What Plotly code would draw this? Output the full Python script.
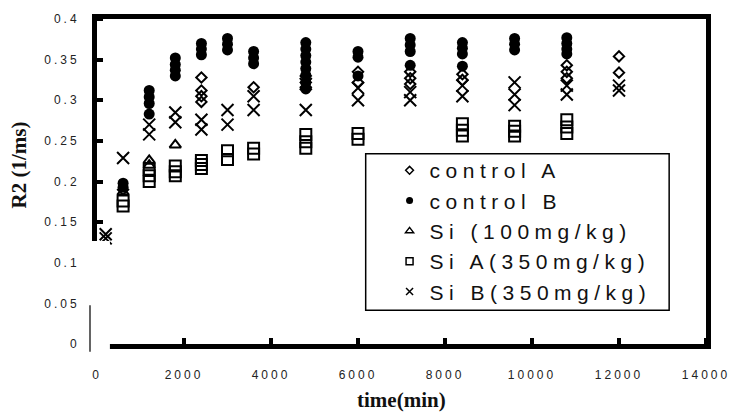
import plotly.graph_objects as go

# ---------------- data ----------------
control_a_t = [600, 2400, 2400, 2400, 2400, 3600, 4800, 4800, 4800, 6000, 6000,
               7200, 7200, 7200, 8400, 8400, 10800, 10800, 10800, 12000, 12000]
control_a_r2 = [0.19, 0.328, 0.312, 0.305, 0.298, 0.316, 0.33, 0.322, 0.316, 0.335, 0.322,
                0.335, 0.327, 0.32, 0.332, 0.325, 0.343, 0.335, 0.327, 0.354, 0.334]

control_b_t = [600, 600, 1200, 1200, 1200, 1200, 1800, 1800, 1800, 1800,
               2400, 2400, 2400, 3000, 3000, 3000, 3600, 3600, 3600,
               4800, 4800, 4800, 4800, 4800, 4800, 4800, 4800,
               6000, 6000, 6000, 7200, 7200, 7200, 7200, 8400, 8400, 8400, 8400,
               9600, 9600, 9600, 10800, 10800, 10800, 10800]
control_b_r2 = [0.198, 0.193, 0.312, 0.304, 0.296, 0.283, 0.352, 0.344, 0.337, 0.33,
                0.370, 0.363, 0.356, 0.376, 0.369, 0.362, 0.36, 0.352, 0.345,
                0.371, 0.363, 0.355, 0.347, 0.339, 0.331, 0.322, 0.314,
                0.36, 0.353, 0.33, 0.376, 0.368, 0.36, 0.343, 0.371, 0.364, 0.357, 0.342,
                0.376, 0.369, 0.362, 0.377, 0.37, 0.363, 0.357]

si100_t = [600, 1200, 1200, 1800]
si100_r2 = [0.187, 0.226, 0.22, 0.245]

si_a_t = [600, 600, 1200, 1200, 1200, 1800, 1800, 1800, 2400, 2400, 2400,
          3000, 3000, 3600, 3600, 4800, 4800, 4800, 6000, 6000,
          8400, 8400, 8400, 9600, 9600, 9600, 10800, 10800, 10800]
si_a_r2 = [0.176, 0.17, 0.215, 0.207, 0.2, 0.219, 0.212, 0.207, 0.226, 0.221, 0.216,
           0.238, 0.227, 0.241, 0.234, 0.258, 0.249, 0.241, 0.259, 0.252,
           0.271, 0.263, 0.256, 0.268, 0.262, 0.256, 0.276, 0.267, 0.259]

si_b_t = [200, 200, 600, 1200, 1200, 1800, 1800, 2400, 2400, 3000, 3000, 3600, 3600,
          4800, 4800, 6000, 6000, 7200, 7200, 8400, 8400, 9600, 9600, 9600,
          10800, 10800, 12000, 12000]
si_b_r2 = [0.135, 0.13, 0.229, 0.27, 0.258, 0.285, 0.273, 0.276, 0.264, 0.288, 0.27, 0.305, 0.288,
           0.32, 0.288, 0.315, 0.3, 0.31, 0.3, 0.318, 0.305, 0.322, 0.307, 0.294,
           0.318, 0.307, 0.318, 0.312]

series_names = ["control A", "control B", "Si (100mg/kg)", "Si A(350mg/kg)", "Si B(350mg/kg)"]
x_ticks = [0, 2000, 4000, 6000, 8000, 10000, 12000, 14000]
x_tick_text = ["0", "2000", "4000", "6000", "8000", "10000", "12000", "14000"]
y_ticks = [0, 0.05, 0.1, 0.15, 0.2, 0.25, 0.3, 0.35, 0.4]
y_tick_text = ["0", "0.05", "0.1", "0.15", "0.2", "0.25", "0.3", "0.35", "0.4"]

# ---------------- styles ----------------
styles = [
    dict(symbol="diamond-open", size=8, lsize=6, lw=2),
    dict(symbol="circle", size=11, lsize=7, lw=0),
    dict(symbol="triangle-up-open", size=10, lsize=7, lw=2),
    dict(symbol="square-open", size=11, lsize=7, lw=2),
    dict(symbol="x-thin-open", size=12, lsize=7, lw=2),
]
data = [(control_a_t, control_a_r2), (control_b_t, control_b_r2), (si100_t, si100_r2),
        (si_a_t, si_a_r2), (si_b_t, si_b_r2)]

fig = go.Figure()
for name, (tx, ry), st in zip(series_names, data, styles):
    fig.add_trace(go.Scatter(
        x=tx, y=ry, mode="markers", name=name, showlegend=False,
        marker=dict(symbol=st["symbol"], size=st["size"], color="black",
                    line=dict(color="black", width=st["lw"]))))
for name, st in zip(series_names, styles):
    fig.add_trace(go.Scatter(
        x=[None], y=[None], mode="markers", name=name, showlegend=True,
        marker=dict(symbol=st["symbol"], size=st["lsize"], color="black",
                    line=dict(color="black", width=1.5 if st["lw"] else 0))))

tick_font = dict(family="Liberation Sans, Arial, sans-serif", size=12, color="#222")
axis_common = dict(showgrid=False, zeroline=False, showline=True, linewidth=5,
                   linecolor="black", mirror=True, ticks="outside",
                   tickcolor="rgba(0,0,0,0)", tickwidth=1, tickfont=tick_font)
fig.update_xaxes(range=[0, 14000], tickvals=x_ticks, ticktext=x_tick_text, ticklen=16,
                 minor=dict(tickvals=x_ticks, ticks="inside", ticklen=6, tickwidth=4,
                            tickcolor="black", showgrid=False),
                 **axis_common)
fig.update_yaxes(range=[0, 0.4], tickvals=y_ticks, ticktext=y_tick_text, ticklen=10,
                 minor=dict(tickvals=y_ticks, ticks="inside", ticklen=6, tickwidth=4,
                            tickcolor="black", showgrid=False),
                 **axis_common)

shapes = [
    # break in the frame at the lower-left corner (as in the reference)
    dict(type="rect", xref="paper", yref="paper", x0=-0.0131, x1=0.0212, y0=-0.03, y1=0.317,
         line=dict(width=0), fillcolor="white", layer="above"),
    # thin stray line near the origin
    dict(type="rect", xref="paper", yref="paper", x0=-0.0125, x1=-0.0105, y0=-0.024, y1=0.119,
         line=dict(width=0), fillcolor="black", layer="above"),
    # legend box
    dict(type="rect", xref="paper", yref="paper", x0=0.4412, x1=0.9395, y0=0.1037, y1=0.5854,
         line=dict(color="black", width=1.5), fillcolor="rgba(0,0,0,0)", layer="above"),
]

fig.update_layout(
    width=735, height=414,
    margin=dict(l=97, r=26, t=16, b=70),
    paper_bgcolor="white", plot_bgcolor="white",
    showlegend=True,
    legend=dict(x=0.4804, y=0.5966, xanchor="left", yanchor="top",
                bgcolor="rgba(0,0,0,0)", borderwidth=0, tracegroupgap=0,
                font=dict(family="Liberation Sans, Arial, sans-serif", size=21, color="#111")),
    shapes=shapes,
    annotations=[
        dict(text="<b>R2 (1/ms)</b>", xref="paper", yref="paper", x=-0.1275, y=0.5503,
             xanchor="center", yanchor="middle", textangle=-90, showarrow=False,
             font=dict(family="Liberation Serif, Times New Roman, serif", size=21, color="#111")),
        dict(text="<b>time(min)</b>", xref="paper", yref="paper", x=0.5, y=-0.1738,
             xanchor="center", yanchor="middle", showarrow=False,
             font=dict(family="Liberation Serif, Times New Roman, serif", size=21, color="#111")),
    ],
)

post = """
var gd = document.getElementById('{plot_id}');
var s = document.createElement('style');
s.textContent = '.xtick text,.ytick text{letter-spacing:3px}.legendtext{letter-spacing:5.5px}';
document.head.appendChild(s);
Plotly.relayout(gd, {'legend.font.size': 21.01});
"""
fig.write_html("out.html", post_script=post)
